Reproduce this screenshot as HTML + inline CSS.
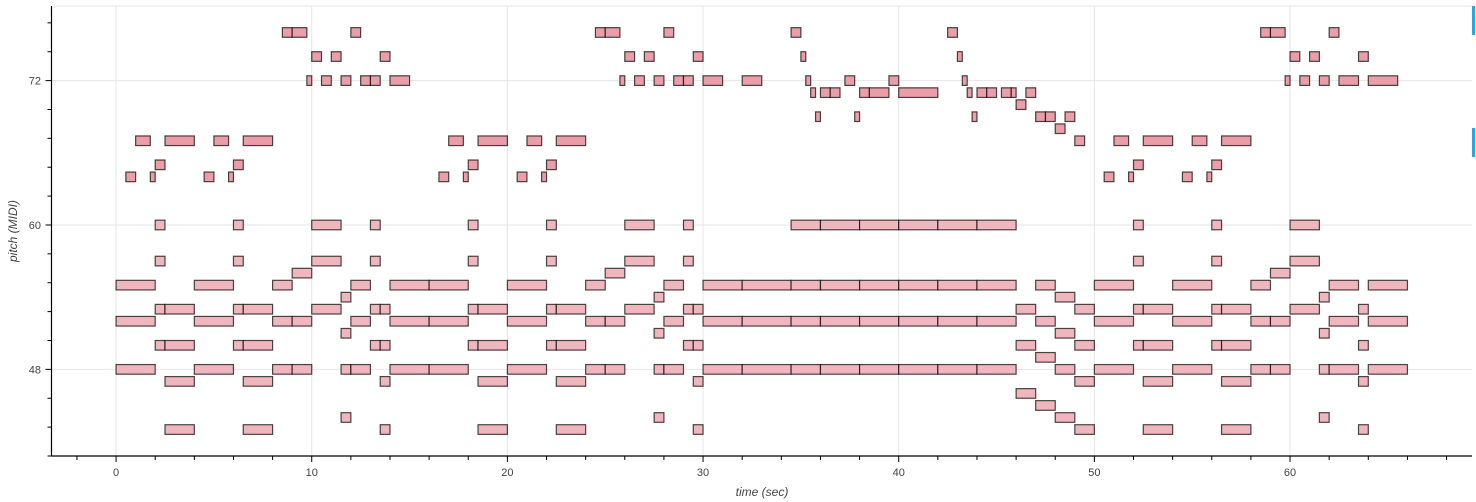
<!DOCTYPE html>
<html><head><meta charset="utf-8"><style>
body{margin:0;background:#fff;}
svg{display:block;font-family:"Liberation Sans",sans-serif;}
</style></head><body>
<svg id="chart" width="1476" height="502" viewBox="0 0 1476 502" xmlns="http://www.w3.org/2000/svg">
<g id="grid"></g>
<g id="notes"></g>
<g id="axes"></g>
<rect x="1472" y="6" width="3" height="29" fill="#2aa6e0"/>
<rect x="1472" y="128" width="3" height="29" fill="#2aa6e0"/>
<text x="0" y="0" transform="translate(17,231) rotate(-90)" text-anchor="middle" font-size="12" font-style="italic" fill="#444">pitch (MIDI)</text>
<text x="762" y="496" text-anchor="middle" font-size="12" font-style="italic" fill="#444">time (sec)</text>
</svg>
<script>
const xTicks = [0,10,20,30,40,50,60];
const yTicks = [48,60,72];
// melody notes: [start, end, pitch]
const melodyNotes = [
[0.5,1,64],[1,1.75,67],[1.75,2,64],[2,2.5,65],[2.5,4,67],[4.5,5,64],[5,5.75,67],[5.75,6,64],[6,6.5,65],[6.5,8,67],
[8.5,9,76],[9,9.75,76],[9.75,10,72],[10,10.5,74],[10.5,11,72],[11,11.5,74],[11.5,12,72],[12,12.5,76],[12.5,13,72],[13,13.5,72],[13.5,14,74],[14,15,72],
[16.5,17,64],[17,17.75,67],[17.75,18,64],[18,18.5,65],[18.5,20,67],[20.5,21,64],[21,21.75,67],[21.75,22,64],[22,22.5,65],[22.5,24,67],
[24.5,25,76],[25,25.75,76],[25.75,26,72],[26,26.5,74],[26.5,27,72],[27,27.5,74],[27.5,28,72],[28,28.5,76],[28.5,29,72],[29,29.5,72],[29.5,30,74],[30,31,72],
[32,33,72],[34.5,35,76],[35,35.25,74],[35.25,35.5,72],[35.5,35.75,71],[35.75,36,69],[36,36.5,71],[36.5,37,71],[37.25,37.75,72],[37.75,38,69],
[38,38.5,71],[38.5,39.5,71],[39.5,40,72],[40,42,71],[42.5,43,76],[43,43.25,74],[43.25,43.5,72],[43.5,43.75,71],[43.75,44,69],[44,44.5,71],[44.5,45,71],
[45.25,45.75,71],[45.75,46,71],[46,46.5,70],[46.5,47,71],[47,47.5,69],[47.5,48,69],[48,48.5,68],[48.5,49,69],[49,49.5,67],
[50.5,51,64],[51,51.75,67],[51.75,52,64],[52,52.5,65],[52.5,54,67],[54.5,55,64],[55,55.75,67],[55.75,56,64],[56,56.5,65],[56.5,58,67],
[58.5,59,76],[59,59.75,76],[59.75,60,72],[60,60.5,74],[60.5,61,72],[61,61.5,74],[61.5,62,72],[62,62.5,76],[62.5,63.5,72],[63.5,64,74],[64,65.5,72]
];
// accompaniment notes: [start, end, pitch]
const accompNotes = [
[0,2,55],[0,2,52],[0,2,48],[2,2.5,60],[2,2.5,57],[2,2.5,53],[2,2.5,50],[2.5,4,53],[2.5,4,50],[2.5,4,47],[2.5,4,43],
[4,6,55],[4,6,52],[4,6,48],[6,6.5,60],[6,6.5,57],[6,6.5,53],[6,6.5,50],[6.5,8,53],[6.5,8,50],[6.5,8,47],[6.5,8,43],
[8,9,55],[8,9,52],[8,9,48],[9,10,56],[9,10,52],[9,10,48],[10,11.5,60],[10,11.5,57],[10,11.5,53],
[11.5,12,54],[11.5,12,51],[11.5,12,48],[11.5,12,44],[12,13,55],[12,13,52],[12,13,48],
[13,13.5,60],[13,13.5,57],[13,13.5,53],[13,13.5,50],[13.5,14,53],[13.5,14,50],[13.5,14,47],[13.5,14,43],[14,16,55],[14,16,52],[14,16,48],
[16,18,55],[16,18,52],[16,18,48],[18,18.5,60],[18,18.5,57],[18,18.5,53],[18,18.5,50],[18.5,20,53],[18.5,20,50],[18.5,20,47],[18.5,20,43],
[20,22,55],[20,22,52],[20,22,48],[22,22.5,60],[22,22.5,57],[22,22.5,53],[22,22.5,50],[22.5,24,53],[22.5,24,50],[22.5,24,47],[22.5,24,43],
[24,25,55],[24,25,52],[24,25,48],[25,26,56],[25,26,52],[25,26,48],[26,27.5,60],[26,27.5,57],[26,27.5,53],
[27.5,28,54],[27.5,28,51],[27.5,28,48],[27.5,28,44],[28,29,55],[28,29,52],[28,29,48],
[29,29.5,60],[29,29.5,57],[29,29.5,53],[29,29.5,50],[29.5,30,53],[29.5,30,50],[29.5,30,47],[29.5,30,43],[30,32,55],[30,32,52],[30,32,48],
[32,34.5,55],[32,34.5,52],[32,34.5,48],[34.5,36,60],[34.5,36,55],[34.5,36,52],[34.5,36,48],
[36,38,60],[36,38,55],[36,38,52],[36,38,48],[38,40,60],[38,40,55],[38,40,52],[38,40,48],
[40,42,60],[40,42,55],[40,42,52],[40,42,48],[42,44,60],[42,44,55],[42,44,52],[42,44,48],[44,46,60],[44,46,55],[44,46,52],[44,46,48],
[46,47,53],[46,47,50],[46,47,46],[47,48,55],[47,48,52],[47,48,49],[47,48,45],[48,49,54],[48,49,51],[48,49,48],[48,49,44],
[49,50,53],[49,50,50],[49,50,47],[49,50,43],
[50,52,55],[50,52,52],[50,52,48],[52,52.5,60],[52,52.5,57],[52,52.5,53],[52,52.5,50],[52.5,54,53],[52.5,54,50],[52.5,54,47],[52.5,54,43],
[54,56,55],[54,56,52],[54,56,48],[56,56.5,60],[56,56.5,57],[56,56.5,53],[56,56.5,50],[56.5,58,53],[56.5,58,50],[56.5,58,47],[56.5,58,43],
[58,59,55],[58,59,52],[58,59,48],[59,60,56],[59,60,52],[59,60,48],[60,61.5,60],[60,61.5,57],[60,61.5,53],
[61.5,62,54],[61.5,62,51],[61.5,62,48],[61.5,62,44],[62,63.5,55],[62,63.5,52],[62,63.5,48],
[63.5,64,53],[63.5,64,50],[63.5,64,47],[63.5,64,43],[64,66,55],[64,66,52],[64,66,48]
];
const X0=51.5,X1=1472,Y0=6,Y1=456;
const tMin=-3.3,tMax=69.3,pMin=40.8,pMax=78.2;
function xs(t){return X0+(t-tMin)/(tMax-tMin)*(X1-X0);}
function ys(p){return Y1-(p-pMin)/(pMax-pMin)*(Y1-Y0);}
const NS="http://www.w3.org/2000/svg";
function mk(tag,attrs,parent){const e=document.createElementNS(NS,tag);for(const k in attrs)e.setAttribute(k,attrs[k]);parent.appendChild(e);return e;}
const grid=document.getElementById('grid'),notes=document.getElementById('notes'),axes=document.getElementById('axes');
mk('line',{x1:X0,x2:X1,y1:Y0,y2:Y0,stroke:'#e6e6e6','stroke-width':1},grid);
xTicks.forEach(t=>{const l=mk('line',{x1:xs(t),x2:xs(t),y1:Y0,y2:Y1,stroke:'#e6e6e6','stroke-width':1},grid);

});
yTicks.forEach(p=>{const l=mk('line',{x1:X0,x2:X1,y1:ys(p),y2:ys(p),stroke:'#e6e6e6','stroke-width':1},grid);

});
function drawNotes(list,fill,name){
 list.forEach(n=>{const x=xs(n[0]),w=xs(n[1])-xs(n[0]);const y=ys(n[2]+0.4),h=ys(n[2]-0.4)-ys(n[2]+0.4);
 const r=mk('rect',{x:x,y:y,width:w,height:h,fill:fill,stroke:'#000','stroke-opacity':0.7,'stroke-width':1.2},notes);
 
 });
}
drawNotes(accompNotes,'#efb6bd','accompaniment-note');
drawNotes(melodyNotes,'#e99ea8','melody-note');
// axes
mk('line',{x1:X0,x2:X0,y1:Y0,y2:Y1,stroke:'#000','stroke-width':1.2},axes);
mk('line',{x1:X0,x2:X1,y1:Y1,y2:Y1,stroke:'#000','stroke-width':1.2},axes);
for(let t=-2;t<=68;t+=2){mk('line',{x1:xs(t),x2:xs(t),y1:Y1,y2:Y1+(t%10===0?6:4),stroke:'#000','stroke-width':1},axes);}
for(let k=-3;k<=14;k++){const p=48+k*2.4;if(p<pMin||p>pMax)continue;const major=(k%5===0);
 mk('line',{x1:X0,x2:X0-(major?6:4),y1:ys(p),y2:ys(p),stroke:'#000','stroke-width':1},axes);}
xTicks.forEach(t=>{const tx=mk('text',{x:xs(t),y:476,'text-anchor':'middle','font-size':11,fill:'#444'},axes);tx.textContent=t;

});
yTicks.forEach(p=>{const tx=mk('text',{x:41,y:ys(p)+4,'text-anchor':'end','font-size':11,fill:'#444'},axes);tx.textContent=p;

});
</script>
</body></html>
